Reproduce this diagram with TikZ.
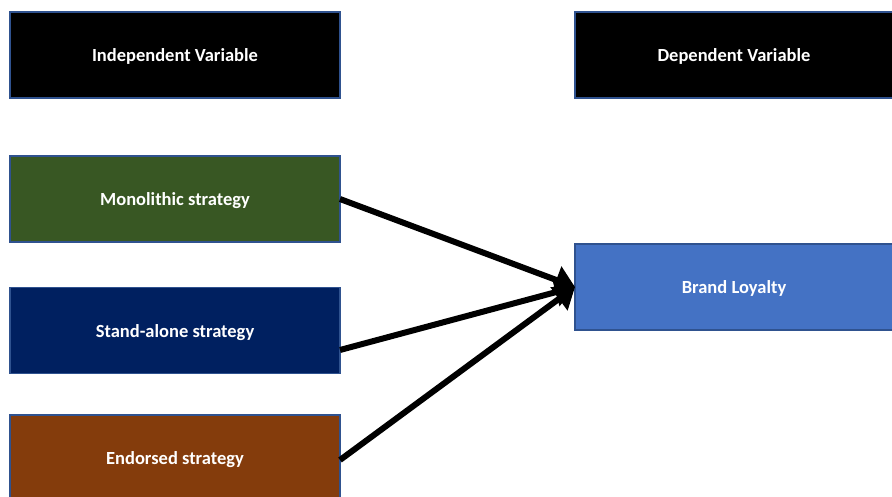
\documentclass[tikz,border=0pt]{standalone}
\usepackage{fontspec}
\setmainfont{Carlito}
\usetikzlibrary{arrows.meta}
\definecolor{bordc}{HTML}{2F528F}
\definecolor{greenc}{HTML}{385723}
\definecolor{navyc}{HTML}{002060}
\definecolor{brownc}{HTML}{843C0C}
\definecolor{bluec}{HTML}{4472C4}
\begin{document}
\begin{tikzpicture}[x=1pt,y=-1pt,
  box/.style={draw=bordc, line width=1.2pt, minimum width=330pt, minimum height=86pt, inner sep=0pt, text height=17pt, text depth=4pt, text=white, font=\bfseries\fontsize{18.5}{22}\selectfont},
  conn/.style={line width=6pt, -{Triangle[length=20pt,width=28pt]}}]
\useasboundingbox (0,0) rectangle (892,497);
\node[box, fill=black] (iv) at (175,55) {Independent Variable};
\node[box, fill=black, minimum width=318pt] (dv) at (734,55) {Dependent Variable};
\node[box, fill=greenc] (mono) at (175,199) {Monolithic strategy};
\node[box, fill=navyc] (stand) at (175,330.5) {Stand-alone strategy};
\node[box, fill=brownc] (endo) at (175,458) {Endorsed strategy};
\node[box, fill=bluec, minimum width=318pt] (brand) at (734,287) {Brand Loyalty};
\coordinate (t) at (575,287);
\draw[conn] (340,199) -- (t);
\draw[conn] (340,350) -- (t);
\draw[conn] (340,460) -- (t);
\end{tikzpicture}
\end{document}
